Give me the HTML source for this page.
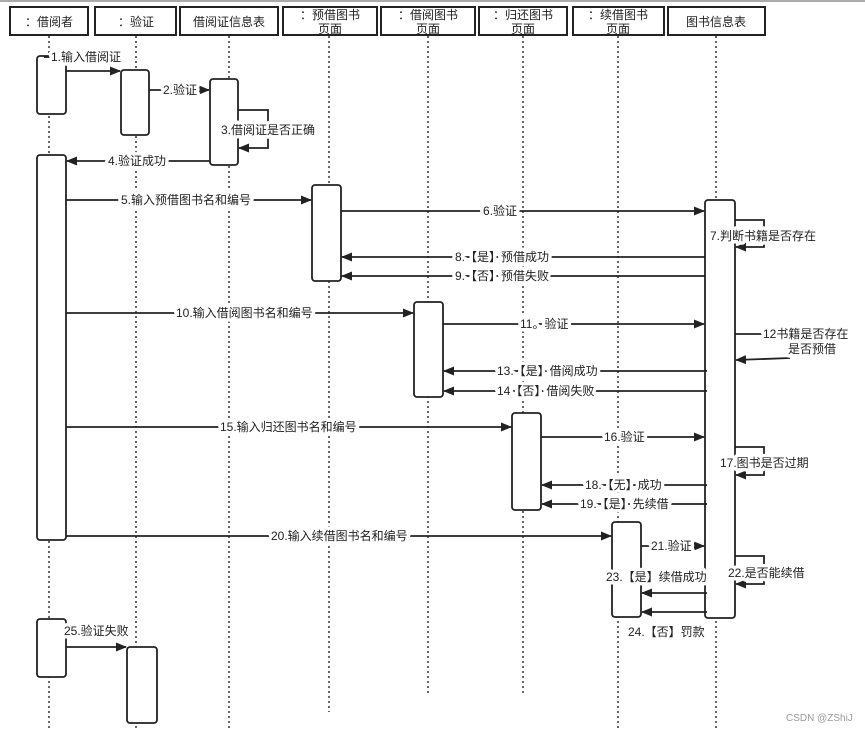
<!DOCTYPE html>
<html><head><meta charset="utf-8"><style>
html,body{margin:0;padding:0;background:#fff;}
svg{display:block;}
text{font-family:"Liberation Sans","Noto Sans CJK SC",sans-serif;font-size:12px;fill:#222;}
.l{paint-order:stroke;stroke:#fff;stroke-width:7px;stroke-linejoin:round;}
</style></head><body>
<svg width="865" height="731" viewBox="0 0 865 731" xmlns="http://www.w3.org/2000/svg">
<defs>
<marker id="a" markerWidth="11" markerHeight="9" refX="10" refY="4.5" orient="auto" markerUnits="userSpaceOnUse">
<path d="M0,0 L11,4.5 L0,9 Z" fill="#222"/></marker>
</defs>
<rect x="0" y="0" width="865" height="2" fill="#aaa"/>
<g stroke="#333" stroke-width="1.5" stroke-dasharray="2,3">
<line x1="49" y1="36" x2="49" y2="731"/>
<line x1="136" y1="36" x2="136" y2="731"/>
<line x1="229" y1="36" x2="229" y2="731"/>
<line x1="329" y1="36" x2="329" y2="712"/>
<line x1="428" y1="36" x2="428" y2="693"/>
<line x1="523" y1="36" x2="523" y2="693"/>
<line x1="618" y1="36" x2="618" y2="731"/>
<line x1="716" y1="36" x2="716" y2="731"/>
</g>
<g fill="#fff" stroke="#222" stroke-width="2">
<rect x="10" y="7" width="78" height="28"/>
<rect x="95" y="7" width="81" height="28"/>
<rect x="180" y="7" width="98" height="28"/>
<rect x="283" y="7" width="94" height="28"/>
<rect x="381" y="7" width="94" height="28"/>
<rect x="479" y="7" width="88" height="28"/>
<rect x="573" y="7" width="91" height="28"/>
<rect x="668" y="7" width="97" height="28"/>
</g>
<g text-anchor="middle" style="font-size:12.5px">
<text x="49" y="26">：借阅者</text>
<text x="136" y="26">：验证</text>
<text x="229" y="26">借阅证信息表</text>
<text x="330" y="19">：预借图书</text><text x="330" y="33">页面</text>
<text x="428" y="19">：借阅图书</text><text x="428" y="33">页面</text>
<text x="523" y="19">：归还图书</text><text x="523" y="33">页面</text>
<text x="618" y="19">：续借图书</text><text x="618" y="33">页面</text>
<text x="716" y="26">图书信息表</text>
</g>
<g fill="#fff" stroke="#222" stroke-width="1.8">
<rect x="37" y="56" width="29" height="58" rx="3"/>
<rect x="37" y="155" width="29" height="385" rx="3"/>
<rect x="37" y="619" width="29" height="58" rx="3"/>
<rect x="121" y="70" width="28" height="65" rx="3"/>
<rect x="127" y="647" width="30" height="76" rx="3"/>
<rect x="210" y="79" width="28" height="86" rx="3"/>
<rect x="312" y="185" width="29" height="96" rx="3"/>
<rect x="414" y="302" width="29" height="95" rx="3"/>
<rect x="512" y="413" width="29" height="97" rx="3"/>
<rect x="612" y="522" width="29" height="95" rx="3"/>
<rect x="705" y="200" width="30" height="418" rx="3"/>
</g>
<g stroke="#222" stroke-width="1.8" fill="none" marker-end="url(#a)">
<line x1="66" y1="71" x2="120" y2="71"/>
<line x1="149" y1="90" x2="209" y2="90"/>
<polyline points="238,110 268,110 268,148 239,148"/>
<line x1="210" y1="161" x2="67" y2="161"/>
<line x1="66" y1="200" x2="311" y2="200"/>
<line x1="341" y1="211" x2="704" y2="211"/>
<polyline points="735,220 764,220 764,247 736,247"/>
<line x1="705" y1="257" x2="342" y2="257"/>
<line x1="705" y1="276" x2="342" y2="276"/>
<line x1="66" y1="313" x2="413" y2="313"/>
<line x1="443" y1="324" x2="704" y2="324"/>
<line x1="790" y1="358" x2="736" y2="360"/>
<line x1="707" y1="371" x2="444" y2="371"/>
<line x1="707" y1="391" x2="444" y2="391"/>
<line x1="66" y1="427" x2="511" y2="427"/>
<line x1="541" y1="437" x2="704" y2="437"/>
<polyline points="735,447 764,447 764,475 736,475"/>
<line x1="707" y1="485" x2="542" y2="485"/>
<line x1="707" y1="504" x2="542" y2="504"/>
<line x1="66" y1="536" x2="611" y2="536"/>
<line x1="641" y1="546" x2="704" y2="546"/>
<polyline points="735,556 764,556 764,584 736,584"/>
<line x1="707" y1="593" x2="642" y2="593"/>
<line x1="707" y1="612" x2="642" y2="612"/>
<line x1="66" y1="647" x2="126" y2="647"/>
</g>
<g stroke="#222" stroke-width="1.8">
<line x1="735" y1="334" x2="762" y2="334"/>
<line x1="44" y1="57" x2="50" y2="57"/>
</g>
<g class="l">
<text x="51" y="61">1.输入借阅证</text>
<text x="163" y="94">2.验证</text>
<text x="221" y="134">3.借阅证是否正确</text>
<text x="108" y="165">4.验证成功</text>
<text x="121" y="204">5.输入预借图书名和编号</text>
<text x="483" y="215">6.验证</text>
<text x="710" y="240">7.判断书籍是否存在</text>
<text x="455" y="261">8.【是】预借成功</text>
<text x="455" y="280">9.【否】预借失败</text>
<text x="176" y="317">10.输入借阅图书名和编号</text>
<text x="520" y="328">11。验证</text>
<text x="763" y="338">12书籍是否存在</text>
<text x="788" y="353">是否预借</text>
<text x="497" y="375">13.【是】借阅成功</text>
<text x="497" y="395">14【否】借阅失败</text>
<text x="220" y="431">15.输入归还图书名和编号</text>
<text x="604" y="441">16.验证</text>
<text x="720" y="467">17.图书是否过期</text>
<text x="585" y="489">18.【无】成功</text>
<text x="580" y="508">19.【是】先续借</text>
<text x="271" y="540">20.输入续借图书名和编号</text>
<text x="651" y="550">21.验证</text>
<text x="728" y="577">22.是否能续借</text>
<text x="606" y="581">23.【是】续借成功</text>
<text x="628" y="636">24.【否】罚款</text>
<text x="64" y="635">25.验证失败</text>
</g>
<text x="786" y="721" style="font-size:10px;fill:#999">CSDN @ZShiJ</text>
</svg>
</body></html>
